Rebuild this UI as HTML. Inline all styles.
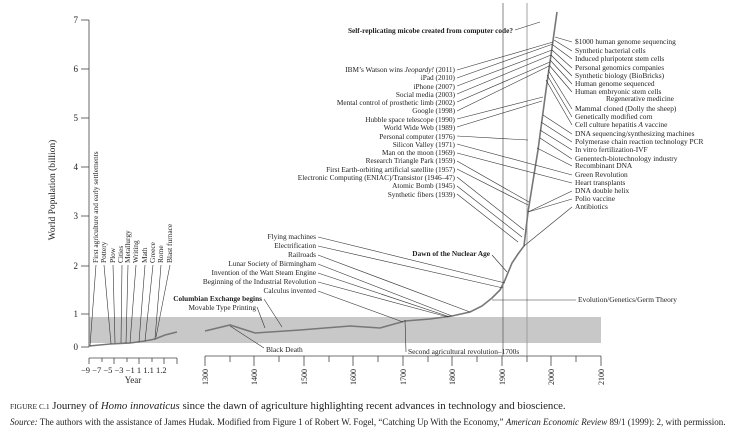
<!DOCTYPE html>
<html><head><meta charset="utf-8"><style>
html,body{margin:0;padding:0;background:#fff;}
svg{display:block;font-family:"Liberation Serif",serif;}
</style></head><body>
<svg width="744" height="430" viewBox="0 0 744 430" xmlns="http://www.w3.org/2000/svg">
<rect x="89" y="317" width="512" height="26" fill="#c8c8c8"/>
<g stroke="#444" stroke-width="0.8" fill="none">
<line x1="89" y1="20" x2="89" y2="347"/>
<line x1="81" y1="20" x2="89" y2="20"/><line x1="81" y1="69" x2="89" y2="69"/>
<line x1="81" y1="118" x2="89" y2="118"/><line x1="81" y1="167" x2="89" y2="167"/>
<line x1="81" y1="216" x2="89" y2="216"/><line x1="81" y1="266" x2="89" y2="266"/>
<line x1="81" y1="314" x2="89" y2="314"/><line x1="81" y1="347" x2="89" y2="347"/>
<line x1="89" y1="358" x2="177" y2="358"/>
<line x1="89" y1="358" x2="89" y2="364"/><line x1="102" y1="358" x2="102" y2="362"/>
<line x1="114" y1="358" x2="114" y2="364"/><line x1="127" y1="358" x2="127" y2="362"/>
<line x1="139" y1="358" x2="139" y2="364"/><line x1="152" y1="358" x2="152" y2="362"/>
<line x1="164" y1="358" x2="164" y2="364"/><line x1="177" y1="358" x2="177" y2="364"/>
<line x1="205" y1="356" x2="601" y2="356"/>
<line x1="205" y1="356" x2="205" y2="366"/><line x1="230" y1="356" x2="230" y2="362"/>
<line x1="254" y1="356" x2="254" y2="366"/><line x1="279" y1="356" x2="279" y2="362"/>
<line x1="304" y1="356" x2="304" y2="366"/><line x1="329" y1="356" x2="329" y2="362"/>
<line x1="353" y1="356" x2="353" y2="366"/><line x1="378" y1="356" x2="378" y2="362"/>
<line x1="403" y1="356" x2="403" y2="366"/><line x1="428" y1="356" x2="428" y2="362"/>
<line x1="452" y1="356" x2="452" y2="366"/><line x1="477" y1="356" x2="477" y2="362"/>
<line x1="502" y1="356" x2="502" y2="366"/><line x1="527" y1="356" x2="527" y2="362"/>
<line x1="551" y1="356" x2="551" y2="366"/><line x1="576" y1="356" x2="576" y2="362"/>
<line x1="601" y1="356" x2="601" y2="366"/>
</g>
<line x1="503" y1="3" x2="503" y2="356" stroke="#555" stroke-width="0.7"/>
<line x1="527" y1="3" x2="527" y2="356" stroke="#999" stroke-width="0.9"/>
<polyline fill="none" stroke="#777" stroke-width="1.6" points="89,346 110,344 130,343 145,341 155,339 165,335 177,332"/>
<polyline fill="none" stroke="#777" stroke-width="1.6" points="205,331 230,325 255,333 300,330 350,326 380,328 405,321 430,319 452,316 470,312 482,306 492,298 500,290 505,280 512,263 518,254 524,246 528,212 538,150 546,90 551,55 557,12"/>
<g stroke="#333" stroke-width="0.6" fill="none">
<line x1="515" y1="30" x2="540" y2="22"/>
<line x1="457" y1="70" x2="553" y2="42"/><line x1="457" y1="78" x2="553" y2="44"/>
<line x1="457" y1="86" x2="552" y2="50"/><line x1="457" y1="94" x2="551" y2="55"/>
<line x1="457" y1="102" x2="550" y2="62"/><line x1="457" y1="111" x2="549" y2="66"/>
<line x1="457" y1="119" x2="543" y2="97"/><line x1="457" y1="127" x2="542" y2="101"/>
<line x1="457" y1="136" x2="528" y2="140"/><line x1="457" y1="144" x2="572" y2="175"/>
<line x1="457" y1="153" x2="572" y2="183"/><line x1="457" y1="161" x2="529" y2="202"/>
<line x1="457" y1="169" x2="528" y2="205"/><line x1="457" y1="177" x2="524" y2="230"/>
<line x1="457" y1="186" x2="522" y2="237"/><line x1="457" y1="194" x2="518" y2="242"/>
<line x1="572" y1="42" x2="555" y2="37"/><line x1="572" y1="51" x2="554" y2="40"/>
<line x1="572" y1="59" x2="553" y2="45"/><line x1="572" y1="68" x2="552" y2="50"/>
<line x1="572" y1="76" x2="551" y2="55"/><line x1="572" y1="84" x2="550" y2="60"/>
<line x1="572" y1="92" x2="549" y2="65"/><line x1="572" y1="109" x2="548" y2="70"/>
<line x1="572" y1="117" x2="547" y2="75"/><line x1="572" y1="125" x2="546" y2="80"/>
<line x1="572" y1="134" x2="543" y2="115"/><line x1="572" y1="142" x2="541" y2="122"/>
<line x1="572" y1="150" x2="540" y2="130"/><line x1="572" y1="159" x2="540" y2="138"/>
<line x1="572" y1="166" x2="537" y2="148"/>
<line x1="572" y1="191" x2="528" y2="212"/><line x1="572" y1="199" x2="528" y2="212"/>
<line x1="572" y1="207" x2="524" y2="246"/>
<line x1="318" y1="237" x2="505" y2="283"/><line x1="318" y1="246" x2="503" y2="288"/>
<line x1="318" y1="255" x2="470" y2="312"/><line x1="318" y1="264" x2="452" y2="316"/>
<line x1="318" y1="273" x2="450" y2="317"/><line x1="318" y1="282" x2="448" y2="317"/>
<line x1="318" y1="291" x2="403" y2="322"/>
<line x1="492" y1="255" x2="507" y2="272"/>
<line x1="264" y1="299" x2="282" y2="327"/><line x1="257" y1="307" x2="265" y2="328"/>
<line x1="492" y1="300" x2="576" y2="300"/>
<line x1="230" y1="326" x2="264" y2="348"/>
<line x1="405" y1="320" x2="406" y2="352"/>
<line x1="96" y1="265" x2="90" y2="346"/><line x1="104" y1="265" x2="111" y2="344"/>
<line x1="113" y1="265" x2="115" y2="343"/><line x1="122" y1="265" x2="121" y2="343"/>
<line x1="128" y1="265" x2="126" y2="343"/><line x1="136" y1="265" x2="130" y2="343"/>
<line x1="145" y1="265" x2="139" y2="342"/><line x1="153" y1="265" x2="145" y2="341"/>
<line x1="161" y1="265" x2="155" y2="339"/><line x1="170" y1="265" x2="156" y2="337"/>
</g>
<g font-size="9" fill="#222" text-anchor="end">
<text x="78" y="23">7</text><text x="78" y="72">6</text><text x="78" y="121">5</text>
<text x="78" y="170">4</text><text x="78" y="219">3</text><text x="78" y="269">2</text>
<text x="78" y="317">1</text><text x="78" y="350">0</text>
</g>
<text transform="translate(55,190) rotate(-90)" font-size="9.5" text-anchor="middle" fill="#222">World Population (billion)</text>
<text x="81" y="373" font-size="8.5" fill="#222">−9 −7 −5 −3 −1  1 1.1 1.2</text>
<text x="133" y="383" font-size="9" text-anchor="middle" fill="#222">Year</text>
<g font-size="8" fill="#222" text-anchor="end">
<text transform="translate(208,369) rotate(-90)">1300</text><text transform="translate(257,369) rotate(-90)">1400</text>
<text transform="translate(307,369) rotate(-90)">1500</text><text transform="translate(356,369) rotate(-90)">1600</text>
<text transform="translate(406,369) rotate(-90)">1700</text><text transform="translate(455,369) rotate(-90)">1800</text>
<text transform="translate(505,369) rotate(-90)">1900</text><text transform="translate(554,369) rotate(-90)">2000</text>
<text transform="translate(604,369) rotate(-90)">2100</text>
</g>
<g font-size="7.4" fill="#222">
<text transform="translate(98,263) rotate(-90)">First agriculture and early settlements</text>
<text transform="translate(106,263) rotate(-90)">Pottery</text>
<text transform="translate(115,263) rotate(-90)">Plow</text>
<text transform="translate(123,263) rotate(-90)">Cities</text>
<text transform="translate(130,263) rotate(-90)">Metallurgy</text>
<text transform="translate(138,263) rotate(-90)">Writing</text>
<text transform="translate(147,263) rotate(-90)">Math</text>
<text transform="translate(155,263) rotate(-90)">Greece</text>
<text transform="translate(163,263) rotate(-90)">Rome</text>
<text transform="translate(172,263) rotate(-90)">Blast furnace</text>
</g>
<g font-size="7.3" fill="#222" text-anchor="end">
<text x="513" y="33" font-weight="bold">Self-replicating micobe created from computer code?</text>
<text x="455" y="72">IBM’s Watson wins <tspan font-style="italic">Jeopardy!</tspan> (2011)</text>
<text x="455" y="80">iPad (2010)</text><text x="455" y="89">iPhone (2007)</text>
<text x="455" y="97">Social media (2003)</text><text x="455" y="105">Mental control of prosthetic limb (2002)</text>
<text x="455" y="113">Google (1998)</text><text x="455" y="122">Hubble space telescope (1990)</text>
<text x="455" y="130">World Wide Web (1989)</text><text x="455" y="139">Personal computer (1976)</text>
<text x="455" y="147">Silicon Valley (1971)</text><text x="455" y="155">Man on the moon (1969)</text>
<text x="455" y="163">Research Triangle Park (1959)</text><text x="455" y="172">First Earth-orbiting artificial satellite (1957)</text>
<text x="455" y="180">Electronic Computing (ENIAC)/Transistor (1946–47)</text>
<text x="455" y="188">Atomic Bomb (1945)</text><text x="455" y="197">Synthetic fibers (1939)</text>
<text x="316" y="239">Flying machines</text><text x="316" y="248">Electrification</text>
<text x="316" y="257">Railroads</text><text x="316" y="266">Lunar Society of Birmingham</text>
<text x="316" y="275">Invention of the Watt Steam Engine</text><text x="316" y="284">Beginning of the Industrial Revolution</text>
<text x="316" y="293">Calculus invented</text>
<text x="262" y="301" font-weight="bold">Columbian Exchange begins</text>
<text x="256" y="310">Movable Type Printing</text>
<text x="490" y="256" font-weight="bold">Dawn of the Nuclear Age</text>
</g>
<g font-size="7.4" fill="#222">
<text x="575" y="44">$1000 human genome sequencing</text><text x="575" y="53">Synthetic bacterial cells</text>
<text x="575" y="61">Induced pluripotent stem cells</text><text x="575" y="70">Personal genomics companies</text>
<text x="575" y="78">Synthetic biology (BioBricks)</text><text x="575" y="86">Human genome sequenced</text>
<text x="575" y="94">Human embryonic stem cells</text><text x="606" y="101">Regenerative medicine</text>
<text x="575" y="111">Mammal cloned (Dolly the sheep)</text><text x="575" y="119">Genetically modified corn</text>
<text x="575" y="127">Cell culture hepatitis <tspan font-style="italic">A</tspan> vaccine</text>
<text x="575" y="136">DNA sequencing/synthesizing machines</text>
<text x="575" y="144">Polymerase chain reaction technology PCR</text>
<text x="575" y="152">In vitro fertilization-IVF</text><text x="575" y="161">Genentech-biotechnology industry</text>
<text x="575" y="168">Recombinant DNA</text><text x="575" y="177">Green Revolution</text>
<text x="575" y="185">Heart transplants</text><text x="575" y="193">DNA double helix</text>
<text x="575" y="201">Polio vaccine</text><text x="575" y="209">Antibiotics</text>
<text x="578" y="302">Evolution/Genetics/Germ Theory</text>
<text x="266" y="352">Black Death</text>
<text x="408" y="354">Second agricultural revolution–1700s</text>
</g>
<text x="10" y="409" font-size="10.8" fill="#222"><tspan font-size="7.5">FIGURE C.1</tspan>  Journey of <tspan font-style="italic">Homo innovaticus</tspan> since the dawn of agriculture highlighting recent advances in technology and bioscience.</text>
<text x="10" y="425" font-size="9" fill="#222"><tspan font-style="italic">Source:</tspan> The authors with the assistance of James Hudak. Modified from Figure 1 of Robert W. Fogel, “Catching Up With the Economy,” <tspan font-style="italic">American Economic Review</tspan> 89/1 (1999): 2, with permission.</text>
</svg>
</body></html>
